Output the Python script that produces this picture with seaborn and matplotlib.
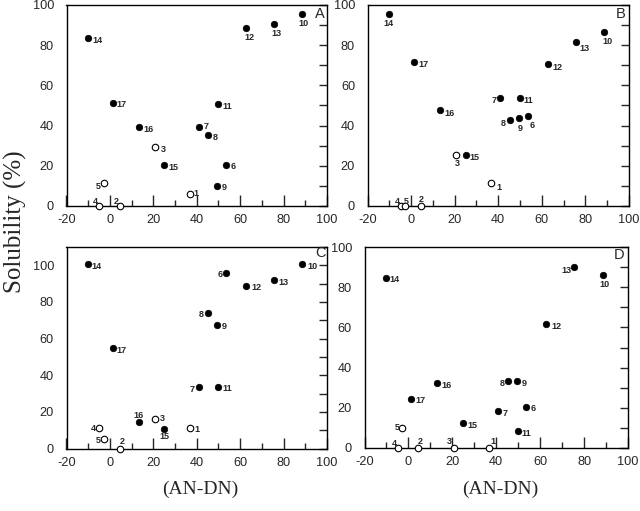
import matplotlib
matplotlib.use("Agg")
import matplotlib.pyplot as plt
from matplotlib.ticker import MultipleLocator
import seaborn as sns
import pandas as pd

# solvents 1..17, x = (AN-DN)
solvent = list(range(1, 18))
an_dn = [36.9, 4.5, 20.7, -4.8, -2.8, 53.7, 41.0, 45.4, 49.5, 88.5,
         49.8, 62.7, 75.6, -10.3, 25.0, 13.2, 1.2]
open_ids = [1, 2, 3, 4, 5]

# solubility (%) per panel, same solvent order
sol_a = [6.1, 0, 29.4, 0, 11.3, 20.2, 39.3, 35.3, 10.1, 95.5,
         50.6, 88.4, 90.4, 83.6, 20.2, 39.3, 51.4]
sol_b = [11.3, 0, 25.4, 0, 0, 44.6, 53.6, 42.6, 43.6, 86.6,
         53.6, 70.8, 81.6, 95.5, 25.4, 47.6, 71.6]
sol_c = [11.4, 0, 16.2, 11.4, 5.4, 95.6, 33.5, 73.8, 67.6, 100.6,
         33.5, 88.8, 91.8, 100.7, 10.4, 14.4, 54.7]
sol_d = [0, 0, 0, 0, 10.1, 20.4, 18.4, 33.3, 33.3, 85.9,
         8.3, 61.9, 89.9, 84.7, 12.3, 32.3, 24.4]

panels = {"A": sol_a, "B": sol_b, "C": sol_c, "D": sol_d}

# label offsets in pixels (dx, dy) for each point number
offsets = {
    "A": {1: (6, 0), 2: (-3, 5), 3: (8, -3), 4: (-4, 4), 5: (-6, -3), 6: (7, -1),
          7: (7, 1), 8: (7, -2), 9: (7, -2), 10: (1, -9), 11: (9, -2), 12: (3, -9),
          13: (2, -9), 14: (10, -3), 15: (9, -2), 16: (10, -2), 17: (9, -2)},
    "B": {1: (7, -4), 2: (0, 7), 3: (1, -9), 4: (-3, 5), 5: (1, 5), 6: (4, -9),
          7: (-6, -2), 8: (-7, -3), 9: (1, -10), 10: (4, -10), 11: (9, -2), 12: (10, -4),
          13: (9, -7), 14: (0, -9), 15: (9, -3), 16: (10, -3), 17: (10, -2)},
    "C": {1: (7, -2), 2: (3, 7), 3: (7, 0), 4: (-6, -1), 5: (-6, -2), 6: (-6, -1),
          7: (-7, -2), 8: (-7, -1), 9: (7, -2), 10: (10, -2), 11: (9, -1), 12: (10, -2),
          13: (9, -2), 14: (9, -2), 15: (0, -7), 16: (0, 7), 17: (9, -2)},
    "D": {1: (4, 6), 2: (2, 7), 3: (-5, 6), 4: (-4, 5), 5: (-5, 0), 6: (7, -2),
          7: (7, -2), 8: (-6, -2), 9: (7, -2), 10: (2, -9), 11: (9, -2), 12: (10, -3),
          13: (-8, -3), 14: (9, -2), 15: (9, -2), 16: (9, -2), 17: (9, -2)},
}

W, H = 640, 511


def box(left, right, top, bottom):
    return [left / W, 1 - bottom / H, (right - left) / W, (bottom - top) / H]


layout = {
    "A": box(66.5, 327, 5, 206),
    "B": box(367.5, 629, 5, 206),
    "C": box(66.5, 327, 247, 448.5),
    "D": box(364.5, 628, 247, 448),
}
ymax = {"A": 100, "B": 100, "C": 110, "D": 100}
letter_pos = {"A": (0.974, 0.955), "B": (0.968, 0.955), "C": (0.975, 0.97), "D": (0.965, 0.96)}

sns.set_theme(style="ticks")
plt.rcParams["font.family"] = ["Liberation Sans", "DejaVu Sans"]
plt.rcParams["axes.linewidth"] = 1.0
plt.rcParams["axes.unicode_minus"] = False

fig = plt.figure(figsize=(6.4, 5.11), dpi=100)

for name, vals in panels.items():
    ax = fig.add_axes(layout[name])
    df = pd.DataFrame({"solvent": solvent, "x": an_dn, "y": vals})
    df["open"] = df["solvent"].isin(open_ids)

    sns.scatterplot(data=df[~df["open"]], x="x", y="y", color="black", s=22,
                    edgecolor="black", linewidth=0.5, ax=ax, clip_on=False, zorder=3)
    sns.scatterplot(data=df[df["open"]], x="x", y="y", color="white", s=22,
                    edgecolor="black", linewidth=0.8, ax=ax, clip_on=False, zorder=3)

    for s, x, y in zip(df["solvent"], df["x"], df["y"]):
        ax.annotate(str(s), (x, y), xytext=offsets[name][s], textcoords="offset pixels",
                    ha="center", va="center", fontsize=6.5, fontweight="bold",
                    annotation_clip=False)

    ax.set_xlim(-20, 100)
    ax.set_ylim(0, ymax[name])
    ax.set_xticks(range(-20, 101, 20))
    ax.set_yticks(range(0, 101, 20))
    ax.xaxis.set_minor_locator(MultipleLocator(10))
    ax.yaxis.set_minor_locator(MultipleLocator(10))
    ax.tick_params(axis="x", which="major", direction="in", length=8, width=1,
                   labelsize=9.2, pad=6, top=False)
    ax.tick_params(axis="x", which="minor", direction="in", length=4, width=1, top=False)
    ax.tick_params(axis="y", which="both", direction="in", left=False, right=True,
                   labelleft=True, labelright=False, length=6, width=1,
                   labelsize=9.2, pad=9)
    for sp in ax.spines.values():
        sp.set_visible(True)
        sp.set_color("black")
    ax.set_xlabel("")
    ax.set_ylabel("")
    ax.text(*letter_pos[name], name, transform=ax.transAxes, ha="center",
            va="center", fontsize=10.5)

serif = ["Liberation Serif", "DejaVu Serif"]
fig.text(200 / W, 1 - 489 / H, "(AN-DN)", ha="center", va="center",
         fontsize=14, family=serif)
fig.text(500 / W, 1 - 489 / H, "(AN-DN)", ha="center", va="center",
         fontsize=14, family=serif)
fig.text(15 / W, 1 - 222 / H, "Solubility (%)", ha="center", va="center",
         rotation=90, fontsize=18, family=serif)

fig.savefig("out.png", dpi=100)
